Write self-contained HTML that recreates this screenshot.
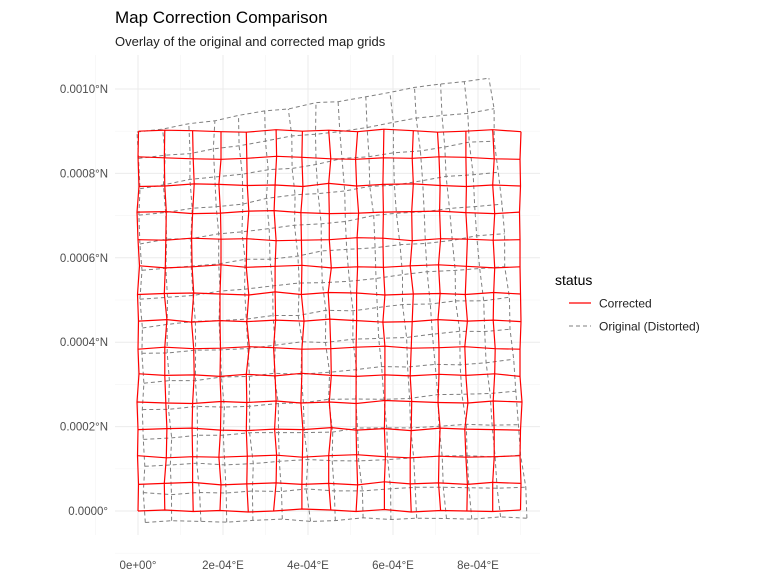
<!DOCTYPE html>
<html><head><meta charset="utf-8"><style>
body{margin:0;background:#fff;font-family:"Liberation Sans",sans-serif}
</style></head><body>
<svg id="chart" width="768" height="576" viewBox="0 0 768 576" xmlns="http://www.w3.org/2000/svg">
<text x="115" y="23" font-size="17" fill="#000">Map Correction Comparison</text>
<text x="115" y="46" font-size="13" fill="#222">Overlay of the original and corrected map grids</text>
<g id="grid"></g>
<g id="orig"></g>
<g id="corr"></g>
<g id="axes"></g>
<g>
<text x="555" y="285" font-size="14" fill="#000">status</text>
<line x1="569" y1="303" x2="591" y2="303" stroke="#ff0000" stroke-width="1.2"/>
<text x="599" y="307.5" font-size="12" fill="#222">Corrected</text>
<line x1="569" y1="326" x2="591" y2="326" stroke="#7f7f7f" stroke-width="1" stroke-dasharray="4,3"/>
<text x="599" y="330.5" font-size="12" fill="#222">Original (Distorted)</text>
</g>
</svg>
<script>
const xTicks=[0,2e-4,4e-4,6e-4,8e-4];
const xTickLabels=["0e+00°","2e-04°E","4e-04°E","6e-04°E","8e-04°E"];
const yTicks=[0,2e-4,4e-4,6e-4,8e-4,1e-3];
const yTickLabels=["0.0000°","0.0002°N","0.0004°N","0.0006°N","0.0008°N","0.0010°N"];
const gridN=15;
const gridMax=9e-4;
// original corners (distorted): BL, BR, TL, TR as [lon,lat]
const origBL=[0.16e-4,-0.26e-4];
const origBR=[9.15e-4,-0.17e-4];
const origTL=[0.0e-4,8.98e-4];
const origTR=[8.28e-4,10.28e-4];
// jitter tables (char 'e' = 0, each step = 0.012e-4)
const corrJx=["edfegcehdfeigde","fcegdhedgfcehdf","dgeceifdehcfegd","ehdfcegidfehcge","cfegdhcedgfdieh","gdhecfeidgcfehd","edgficehdgefcid","fhcedgifecgdhef","dcgehfdcegihdfe","hedgcfeigdcefhd","efcgdhdefcgihed","cgefhdceidfgehc","gdhcefgdecihfde","ecfgdiehcdgfegd","fdegchfdgeicedf"];
const corrJy=["egdfceigdhcfedg","dfhcegdfciegdhf","gcedfhdgiecfdeg","eghdcfeidgchfed","fdcgehdfcigedhf","hefcgdiecfdgehc","cgdehfcdgiefhdc","ehcfdgeifcdhegd","dfgecidhgcefdhe","gceidfhcedgifce","edhfgcdeihcgfde","fgcdhiecdfghecf","cdhgefcidghecfd","hfdceigdcfehgdc","egfdchegdifcehd"];
const origJx=["fdhecgidefchdge","cegfdhcegidfceh","gdcehfidcgehdfc","ehfdcgehdicfged","dcgheifcdgehcfd","hfedgcdhifegdce","ecgdfhicedgfhec","gdhcefdgiecfdhg","cfegdhicefgdhec","hdcfgeidchfegdh","egdhcfegdicgfeh","dfhegcidfechdgf","gcedhifcdgehfdc","ehgcdfhecgidefh","cdfhegdichfegdc"];
const origJy=["dgecfhcdiegfdhe","hcfdgeidcfhgecd","efhcdgiecdfhgce","cdgehfdcigefhdc","gehdcfeigdchfeg","dfcgehcdfiegcdh","hegdcfidgecfhde","cfhedgcidfhegcf","edcgfhiecdghfed","gfedhcdigefcdhg","dhcgefgdcihefdc","fegdchiedgcfhed","cdhfegcdifgdehc","hgcedfiecdghfce","ecfdghdicefhgdc"];

const X0=138,XS=42.5/1e-4,Y0=511,YS=42.2/1e-4;
const sx=v=>X0+v*XS, sy=v=>Y0-v*YS;
const NS="http://www.w3.org/2000/svg";
function mk(tag,attrs,parent){const e=document.createElementNS(NS,tag);for(const k in attrs)e.setAttribute(k,attrs[k]);parent.appendChild(e);return e;}
const J=c=>(c.charCodeAt(0)-101)*0.012e-4;

const g=document.getElementById('grid');
for(let k=-1;k<=9;k++){
  const v=k*1e-4;
  const major=k%2===0;
  const l=mk('line',{x1:sx(v),x2:sx(v),y1:55,y2:535,stroke:major?'#ebebeb':'#f4f4f4','stroke-width':major?1:0.6},g);
  
  
}
for(let k=-1;k<=10;k++){
  const v=k*1e-4;
  const major=k%2===0;
  const l=mk('line',{x1:115,x2:540,y1:sy(v),y2:sy(v),stroke:major?'#ebebeb':'#f4f4f4','stroke-width':major?1:0.6},g);
  
  
}
const ax=document.getElementById('axes');
xTicks.forEach((t,i)=>{
  const e=mk('text',{x:sx(t),y:569,'font-size':11.5,fill:'#4d4d4d','text-anchor':'middle'},ax);
  e.textContent=xTickLabels[i];
  
  
});
yTicks.forEach((t,i)=>{
  const e=mk('text',{x:108,y:sy(t)+4,'font-size':11.5,fill:'#4d4d4d','text-anchor':'end'},ax);
  e.textContent=yTickLabels[i];
  
  
});

function corrNode(i,j){const s=gridMax/(gridN-1);return [i*s+J(corrJx[j][i]), j*s+J(corrJy[j][i])];}
function origNode(i,j){
  const u=i/(gridN-1),v=j/(gridN-1);
  const bx=origBL[0]*(1-u)*(1-v)+origBR[0]*u*(1-v)+origTL[0]*(1-u)*v+origTR[0]*u*v;
  const by=origBL[1]*(1-u)*(1-v)+origBR[1]*u*(1-v)+origTL[1]*(1-u)*v+origTR[1]*u*v;
  return [bx+J(origJx[j][i]), by+J(origJy[j][i])];
}
function drawGrid(parentId,nodeFn,style,name){
  const p=document.getElementById(parentId);
  for(let j=0;j<gridN;j++){
    const pts=[];for(let i=0;i<gridN;i++){const n=nodeFn(i,j);pts.push(sx(n[0]).toFixed(1)+','+sy(n[1]).toFixed(1));}
    const e=mk('polyline',Object.assign({points:pts.join(' '),fill:'none'},style),p);
    
    
  }
  for(let i=0;i<gridN;i++){
    const pts=[];for(let j=0;j<gridN;j++){const n=nodeFn(i,j);pts.push(sx(n[0]).toFixed(1)+','+sy(n[1]).toFixed(1));}
    const e=mk('polyline',Object.assign({points:pts.join(' '),fill:'none'},style),p);
    
    
  }
}
drawGrid('orig',origNode,{stroke:'#7f7f7f','stroke-width':1,'stroke-dasharray':'4,3'},'original');
drawGrid('corr',corrNode,{stroke:'#ff0000','stroke-width':1.2},'corrected');
</script>
</body></html>
